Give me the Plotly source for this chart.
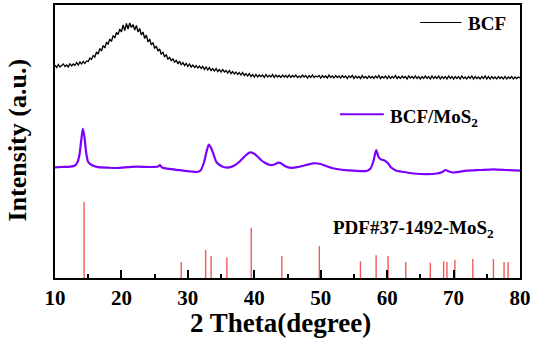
import plotly.graph_objects as go

# ---- BCF (amorphous) pattern, sampled every 0.25 deg from 10 to 80 ----
bcf_start, bcf_step = 10.0, 0.25
bcf_y = [
    213, 210.5, 213.5, 211, 212.5, 214, 211.5, 213, 211, 214.5, 212, 214, 212.5, 215.5, 213, 216, 214, 216.5, 214.5, 217,
    216.5, 220, 218.5, 222.5, 221, 226, 224, 229.5, 227, 232.5, 230, 235.5, 234, 239, 236.5, 242.5, 240, 245.5, 243.5, 249,
    246, 253, 247.5, 254.5, 249, 255, 250.5, 253.5, 248, 252.5, 246, 249.5, 243, 246, 239.5, 243, 236, 239, 233, 235.5,
    229.5, 232, 227, 229, 223.5, 226, 221, 223.5, 218.5, 221, 217, 219.5, 215.5, 218, 214, 217, 213, 215.5, 212.5, 214.5,
    211.5, 214, 211, 213, 210.5, 212.5, 210, 212, 209.5, 211.5, 208.5, 211, 208, 210.5, 207.5, 209.5, 207, 209.5, 206.5, 208.5,
    206, 208.5, 206, 207.5, 205, 207.5, 204.5, 206.5, 204, 206, 203.5, 205.5, 203, 205.5, 202.5, 204.5, 202, 204.5, 201.5, 203.5,
    201, 203.5, 201, 203, 201.5, 203, 200.5, 203.5, 201, 202.5, 201, 203.5, 200.5, 203, 201, 202.5, 200.5, 203, 201, 202.5,
    200.5, 203, 200.5, 202.5, 201, 203, 200.5, 202, 200.5, 203, 201, 202.5, 200, 202.5, 200.5, 203, 200.5, 202, 201, 202.5,
    200, 202.5, 200.5, 202, 200, 203, 200.5, 202, 200, 202.5, 200.5, 202, 200, 202.5, 200.5, 202, 199.5, 202, 200.5, 202.5,
    199.5, 202, 200, 201.5, 199.5, 202.5, 200, 201.5, 199.5, 202, 200, 201.5, 199.5, 202, 200, 202.5, 199.5, 201.5, 200, 202,
    199.5, 202, 199.5, 201.5, 200, 202.5, 199.5, 201.5, 199.5, 202, 200, 201.5, 199, 202, 200, 201.5, 199.5, 202, 199.5, 201.5,
    199, 201.5, 199.5, 202, 199.5, 201.5, 199, 202, 199.5, 201.5, 199.5, 202, 199, 201.5, 199.5, 201.5, 199, 202, 199.5, 201.5,
    199, 201.5, 199.5, 201.5, 199, 202, 199.5, 201, 199, 201.5, 199.5, 202, 199, 201.5, 199.5, 201, 199, 201.5, 199.5, 202,
    199, 201.5, 199, 201.5, 199.5, 201, 199, 201.5, 199.5, 201, 199, 201.5, 199, 201, 199.5, 201.5, 199, 201, 199.5, 201,
    200,
]
bcf_x = [bcf_start + bcf_step * i for i in range(len(bcf_y))]

# ---- BCF/MoS2 pattern ----
mos_x = [10.0, 11.0, 12.3, 13.0, 13.4, 13.7, 13.95, 14.2, 14.45, 14.7, 15.0, 15.5, 16.5, 18.0, 19.3,
         21.0, 22.3, 24.3, 25.5, 25.8, 26.1, 27.5, 29.3, 30.5, 31.3, 31.9, 32.4, 32.8, 33.15, 33.5,
         33.9, 34.3, 35.0, 36.0, 37.0, 37.8, 38.6, 39.3, 39.8, 40.4, 41.0, 41.6, 42.4, 43.0, 43.6,
         44.0, 44.6, 45.3, 46.5, 47.8, 48.9, 50.0, 50.8, 52.0, 53.5, 55.0, 56.9, 57.5, 57.9, 58.35,
         58.7, 59.1, 59.6, 60.1, 60.6, 61.3, 62.5, 64.0, 66.0, 67.5, 68.3, 68.8, 69.3, 70.0, 72.0,
         74.0, 76.0, 78.0, 80.0]
mos_y = [110.7, 111, 111.3, 112.5, 116, 124, 138, 149.5, 140, 125, 116, 113, 110.8, 110.3, 110,
         110.8, 111.3, 111, 111.5, 112.8, 110.5, 108.8, 107.3, 106.5, 106, 107.5, 115, 126, 133.5, 130,
         123, 116, 112, 110.3, 112.5, 116.5, 122, 125.5, 125, 122, 118, 115.3, 113, 113.5, 115.3,
         114.8, 112, 110.3, 110.8, 113, 114.7, 114, 112, 109.5, 108, 107.3, 107, 109.5, 116, 128,
         121, 118.5, 117.5, 115, 110.5, 107.5, 106, 104.5, 103.8, 104.5, 106, 108, 106.5, 105.5, 107.3,
         108, 108.7, 108, 107.3]

# ---- PDF#37-1492 MoS2 reference lines (position, relative intensity %) ----
pdf_pos = [14.38, 29.0, 32.68, 33.5, 35.87, 39.54, 44.15, 49.79, 55.98, 58.34, 60.14, 62.8,
           66.5, 68.5, 69.0, 70.2, 72.9, 76.0, 77.6, 78.2]
pdf_int = [100, 21, 37, 29, 27, 66, 29, 42, 22, 30, 29, 21,
           20, 22, 21, 24, 25, 25, 21, 21]
pdf_scale = 0.76

xticks = [10, 20, 30, 40, 50, 60, 70, 80]

FONT = "Liberation Serif"
RED = "#f25a5a"
PURPLE = "#7b00ff"

stick_x, stick_y = [], []
for p, v in zip(pdf_pos, pdf_int):
    stick_x += [p, p, None]
    stick_y += [0, v * pdf_scale, None]

fig = go.Figure()
fig.add_trace(go.Scatter(x=stick_x, y=stick_y, mode="lines",
                         line=dict(color=RED, width=1.4), showlegend=False, hoverinfo="skip"))
fig.add_trace(go.Scatter(x=mos_x, y=mos_y, mode="lines",
                         line=dict(color=PURPLE, width=2.2, shape="spline", smoothing=0.6), showlegend=False))
fig.add_trace(go.Scatter(x=bcf_x, y=bcf_y, mode="lines",
                         line=dict(color="black", width=1.3), showlegend=False))

# legend-like labels
fig.add_shape(type="line", x0=64.95, x1=71.2, y0=255.5, y1=255.5, xref="x", yref="y",
              line=dict(color="black", width=1.2))
fig.add_annotation(x=71.9, y=255, xref="x", yref="y", text="<b>BCF</b>", showarrow=False,
                   xanchor="left", yanchor="middle", font=dict(family=FONT, size=19, color="black"))
fig.add_shape(type="line", x0=52.9, x1=59.5, y0=163.7, y1=163.7, xref="x", yref="y",
              line=dict(color=PURPLE, width=2))
fig.add_annotation(x=60.2, y=160, xref="x", yref="y", text="<b>BCF/MoS<sub>2</sub></b>", showarrow=False,
                   xanchor="left", yanchor="middle", font=dict(family=FONT, size=19, color="black"))
fig.add_annotation(x=51.6, y=49, xref="x", yref="y", text="<b>PDF#37-1492-MoS<sub>2</sub></b>", showarrow=False,
                   xanchor="left", yanchor="middle", font=dict(family=FONT, size=19, color="black"))

# axis titles
fig.add_annotation(x=-0.081, y=0.505, xref="paper", yref="paper", text="<b>Intensity (a.u.)</b>",
                   textangle=-90, showarrow=False, xanchor="center", yanchor="middle",
                   font=dict(family=FONT, size=26, color="black"))
fig.add_annotation(x=0.484, y=-0.165, xref="paper", yref="paper", text="<b>2 Theta(degree)</b>",
                   showarrow=False, xanchor="center", yanchor="middle",
                   font=dict(family=FONT, size=27, color="black"))

fig.update_layout(
    width=536, height=344,
    margin=dict(l=55, r=16, t=5, b=66, autoexpand=False),
    paper_bgcolor="white", plot_bgcolor="white",
    font=dict(family=FONT, color="black"),
    xaxis=dict(range=[10, 80], tickvals=xticks, ticktext=[f"<b>{t}</b>" for t in xticks],
               ticks="inside", ticklen=8, tickwidth=2, tickcolor="black", automargin=False,
               minor=dict(ticks="inside", ticklen=4, tickwidth=2, dtick=5, tick0=5, tickcolor="black"),
               showline=True, linewidth=2, linecolor="black", mirror=True,
               showgrid=False, zeroline=False,
               tickfont=dict(family=FONT, size=21, color="black")),
    yaxis=dict(range=[0, 273], showticklabels=False, ticks="", automargin=False,
               showline=True, linewidth=2, linecolor="black", mirror=True,
               showgrid=False, zeroline=False),
)

fig.write_html("out.html", config={"displayModeBar": False},
               post_script="document.body.style.margin='0';")
